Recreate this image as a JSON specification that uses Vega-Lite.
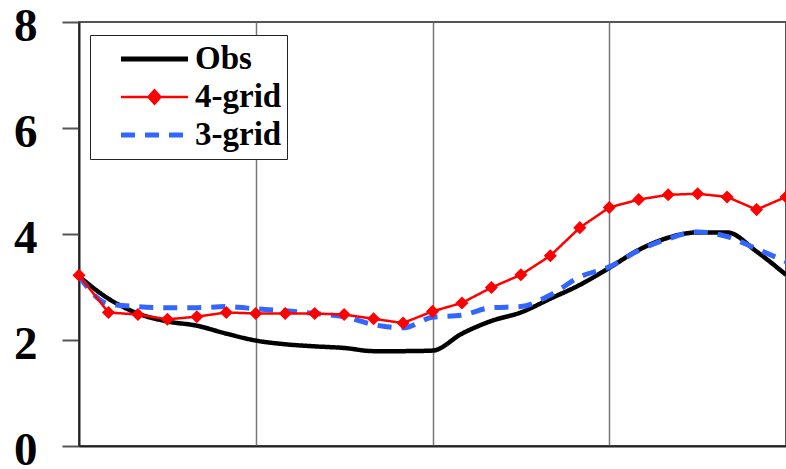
{
  "$schema": "https://vega.github.io/schema/vega-lite/v6.json",
  "width": 707,
  "height": 424,
  "autosize": "none",
  "padding": {"left": 79, "top": 22, "right": 0, "bottom": 23},
  "background": "white",
  "view": {"stroke": "#555555", "strokeWidth": 2},
  "config": {
    "legend": {
      "orient": "none",
      "legendX": 11,
      "legendY": 13,
      "fillColor": "white",
      "strokeColor": "#222222",
      "padding": 5,
      "symbolType": "stroke",
      "symbolSize": 4489,
      "symbolOffset": 43,
      "labelOffset": 24,
      "clipHeight": 38,
      "rowPadding": 0,
      "labelFont": "Liberation Serif",
      "labelFontSize": 33,
      "labelFontWeight": "bold",
      "labelColor": "#000000",
      "labelLimit": 400
    }
  },
  "data": {
    "values": [
      {"h": 0, "series": "Obs", "v": 3.2},
      {"h": 1, "series": "Obs", "v": 2.78},
      {"h": 2, "series": "Obs", "v": 2.5},
      {"h": 3, "series": "Obs", "v": 2.35},
      {"h": 4, "series": "Obs", "v": 2.27},
      {"h": 5, "series": "Obs", "v": 2.12},
      {"h": 6, "series": "Obs", "v": 1.99},
      {"h": 7, "series": "Obs", "v": 1.92},
      {"h": 8, "series": "Obs", "v": 1.88},
      {"h": 9, "series": "Obs", "v": 1.85},
      {"h": 10, "series": "Obs", "v": 1.79},
      {"h": 11, "series": "Obs", "v": 1.79},
      {"h": 12, "series": "Obs", "v": 1.8},
      {"h": 13, "series": "Obs", "v": 2.12},
      {"h": 14, "series": "Obs", "v": 2.36},
      {"h": 15, "series": "Obs", "v": 2.52},
      {"h": 16, "series": "Obs", "v": 2.78},
      {"h": 17, "series": "Obs", "v": 3.04},
      {"h": 18, "series": "Obs", "v": 3.36},
      {"h": 19, "series": "Obs", "v": 3.7},
      {"h": 20, "series": "Obs", "v": 3.93},
      {"h": 21, "series": "Obs", "v": 4.03},
      {"h": 22, "series": "Obs", "v": 4.03},
      {"h": 23, "series": "Obs", "v": 3.67},
      {"h": 24, "series": "Obs", "v": 3.23},
      {"h": 0, "series": "3-grid", "v": 3.2},
      {"h": 1, "series": "3-grid", "v": 2.68},
      {"h": 2, "series": "3-grid", "v": 2.63},
      {"h": 3, "series": "3-grid", "v": 2.61},
      {"h": 4, "series": "3-grid", "v": 2.61},
      {"h": 5, "series": "3-grid", "v": 2.63},
      {"h": 6, "series": "3-grid", "v": 2.59},
      {"h": 7, "series": "3-grid", "v": 2.55},
      {"h": 8, "series": "3-grid", "v": 2.5},
      {"h": 9, "series": "3-grid", "v": 2.44},
      {"h": 10, "series": "3-grid", "v": 2.29},
      {"h": 11, "series": "3-grid", "v": 2.23},
      {"h": 12, "series": "3-grid", "v": 2.43},
      {"h": 13, "series": "3-grid", "v": 2.47},
      {"h": 14, "series": "3-grid", "v": 2.61},
      {"h": 15, "series": "3-grid", "v": 2.63},
      {"h": 16, "series": "3-grid", "v": 2.85},
      {"h": 17, "series": "3-grid", "v": 3.19},
      {"h": 18, "series": "3-grid", "v": 3.38},
      {"h": 19, "series": "3-grid", "v": 3.69},
      {"h": 20, "series": "3-grid", "v": 3.91},
      {"h": 21, "series": "3-grid", "v": 4.04},
      {"h": 22, "series": "3-grid", "v": 3.95},
      {"h": 23, "series": "3-grid", "v": 3.72},
      {"h": 24, "series": "3-grid", "v": 3.48},
      {"h": 0, "series": "4-grid", "v": 3.22},
      {"h": 1, "series": "4-grid", "v": 2.52},
      {"h": 2, "series": "4-grid", "v": 2.48},
      {"h": 3, "series": "4-grid", "v": 2.39},
      {"h": 4, "series": "4-grid", "v": 2.44},
      {"h": 5, "series": "4-grid", "v": 2.52},
      {"h": 6, "series": "4-grid", "v": 2.5},
      {"h": 7, "series": "4-grid", "v": 2.5},
      {"h": 8, "series": "4-grid", "v": 2.5},
      {"h": 9, "series": "4-grid", "v": 2.48},
      {"h": 10, "series": "4-grid", "v": 2.4},
      {"h": 11, "series": "4-grid", "v": 2.32},
      {"h": 12, "series": "4-grid", "v": 2.54},
      {"h": 13, "series": "4-grid", "v": 2.7},
      {"h": 14, "series": "4-grid", "v": 2.99},
      {"h": 15, "series": "4-grid", "v": 3.23},
      {"h": 16, "series": "4-grid", "v": 3.59},
      {"h": 17, "series": "4-grid", "v": 4.12},
      {"h": 18, "series": "4-grid", "v": 4.5},
      {"h": 19, "series": "4-grid", "v": 4.65},
      {"h": 20, "series": "4-grid", "v": 4.74},
      {"h": 21, "series": "4-grid", "v": 4.76},
      {"h": 22, "series": "4-grid", "v": 4.7},
      {"h": 23, "series": "4-grid", "v": 4.46},
      {"h": 24, "series": "4-grid", "v": 4.7}
    ]
  },
  "encoding": {
    "x": {
      "field": "h",
      "type": "quantitative",
      "scale": {"domain": [0, 24], "nice": false, "zero": false},
      "axis": {
        "title": null,
        "values": [6, 12, 18],
        "grid": true,
        "gridColor": "#777777",
        "gridWidth": 1.5,
        "gridOpacity": 1,
        "ticks": false,
        "labels": false,
        "domainColor": "#222222",
        "domainWidth": 2
      }
    },
    "y": {
      "field": "v",
      "type": "quantitative",
      "scale": {"domain": [0, 8], "nice": false},
      "axis": {
        "title": null,
        "values": [0, 2, 4, 6, 8],
        "grid": false,
        "tickSize": 17,
        "tickColor": "#555555",
        "tickWidth": 2,
        "domainColor": "#222222",
        "domainWidth": 2,
        "labelFont": "Liberation Serif",
        "labelFontSize": 47,
        "labelFontWeight": "bold",
        "labelColor": "#000000",
        "labelPadding": 25,
        "labelOffset": 4
      }
    }
  },
  "layer": [
    {
      "transform": [{"filter": "datum.series === 'Obs'"}],
      "mark": {"type": "line", "interpolate": "monotone", "strokeWidth": 4.5},
      "encoding": {
        "color": {
          "field": "series", "type": "nominal",
          "scale": {"domain": ["Obs", "4-grid", "3-grid"], "range": ["#000000", "#ff0000", "#3366ff"]},
          "legend": {
            "title": null,
            "encode": {
              "symbols": {
                "update": {
                  "strokeWidth": {"signal": "datum.value === '4-grid' ? 2.5 : 5"},
                  "shape": {"signal": "datum.value === '4-grid' ? 'M-1,0H1M0,-0.2L0.18,0L0,0.2L-0.18,0Z' : 'M-1,0H1'"},
                  "fill": {"signal": "datum.value === '4-grid' ? '#ff0000' : 'transparent'"}
                }
              }
            }
          }
        },
        "strokeDash": {
          "field": "series", "type": "nominal",
          "scale": {"domain": ["Obs", "4-grid", "3-grid"], "range": [[1, 0], [1, 0], [14, 10]]},
          "legend": {"title": null}
        }
      }
    },
    {
      "transform": [{"filter": "datum.series === '3-grid'"}],
      "mark": {"type": "line", "interpolate": "monotone", "strokeWidth": 5},
      "encoding": {
        "color": {"field": "series", "type": "nominal"},
        "strokeDash": {"field": "series", "type": "nominal"}
      }
    },
    {
      "transform": [{"filter": "datum.series === '4-grid'"}],
      "mark": {"type": "line", "interpolate": "linear", "strokeWidth": 2.5},
      "encoding": {
        "color": {"field": "series", "type": "nominal"},
        "strokeDash": {"field": "series", "type": "nominal"}
      }
    },
    {
      "transform": [{"filter": "datum.series === '4-grid'"}],
      "mark": {"type": "point", "shape": "diamond", "filled": true, "color": "#ff0000", "size": 170, "opacity": 1}
    }
  ]
}
